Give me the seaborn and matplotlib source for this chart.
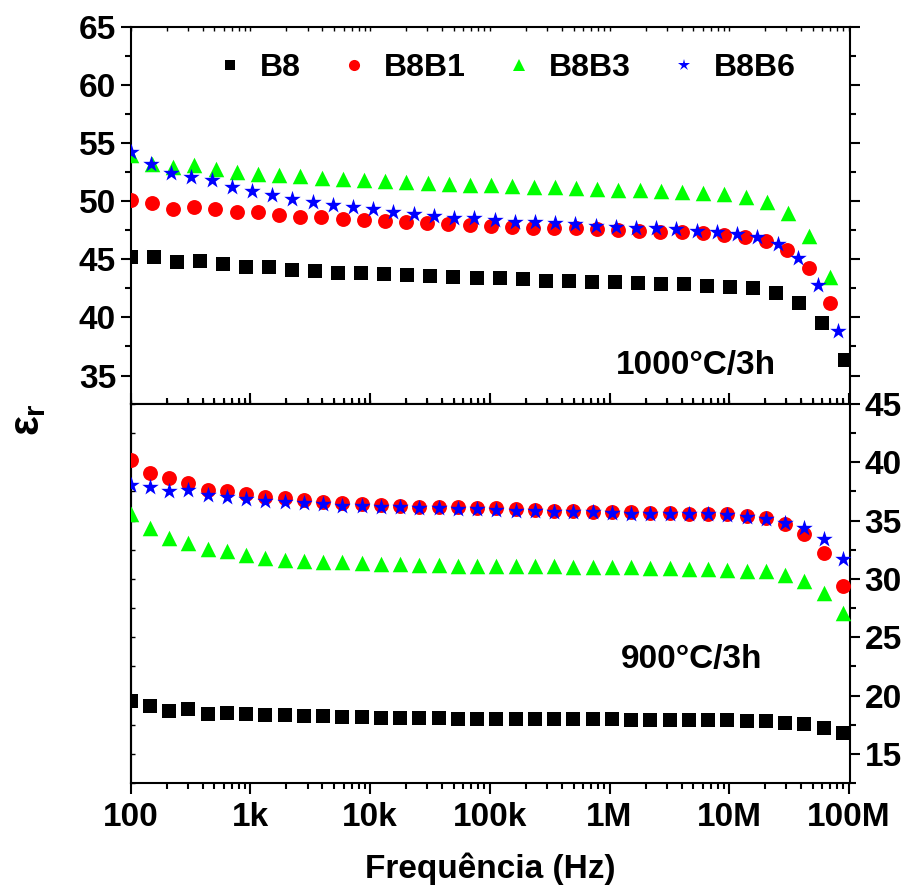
import numpy as np
import pandas as pd
import matplotlib
matplotlib.use("Agg")
import matplotlib.pyplot as plt
import matplotlib.ticker as mticker
import seaborn as sns

sns.set_theme(style="white")
plt.rcParams['font.family'] = ['Liberation Sans', 'DejaVu Sans']
plt.rcParams['font.weight'] = 'bold'
plt.rcParams['mathtext.fontset'] = 'custom'
plt.rcParams['mathtext.rm'] = 'Liberation Sans:bold'
plt.rcParams['mathtext.it'] = 'Liberation Sans:bold'
for k in ('text.color', 'axes.labelcolor', 'xtick.color', 'ytick.color', 'axes.edgecolor'):
    plt.rcParams[k] = 'black'

series_names = ["B8", "B8B1", "B8B3", "B8B6"]
colors = {"B8": "#000000", "B8B1": "#ff0000", "B8B3": "#00ff00", "B8B6": "#0000ff"}
markers = {"B8": "s", "B8B1": "o", "B8B3": "^", "B8B6": "*"}
sizes = {"B8": 105, "B8B1": 115, "B8B3": 125, "B8B6": 155}

# frequency sweeps (Hz)
freq_1000_B8 = np.logspace(2, 7.97, 32)
freq_1000_B8B1 = np.logspace(2, 7.84, 34)
freq_1000_B8B3 = np.logspace(2, 7.845, 34)
freq_1000_B8B6 = np.logspace(2, 7.91, 36)
freq_900 = np.logspace(2, 7.95, 38)

# 1000°C/3h permittivity
er_1000_B8 = [45.17, 45.17, 44.80, 44.89, 44.57, 44.31, 44.31, 44.08, 44.00, 43.85,
              43.80, 43.71, 43.62, 43.57, 43.51, 43.42, 43.37, 43.28, 43.17, 43.14,
              43.08, 43.02, 42.94, 42.88, 42.85, 42.74, 42.65, 42.51, 42.13, 41.28,
              39.56, 36.35]
er_1000_B8B1 = [50.10, 49.81, 49.33, 49.47, 49.30, 49.04, 49.04, 48.81, 48.67, 48.61,
                48.50, 48.38, 48.32, 48.24, 48.09, 48.04, 47.95, 47.87, 47.81, 47.72,
                47.66, 47.66, 47.61, 47.52, 47.46, 47.38, 47.32, 47.23, 47.09, 46.89,
                46.60, 45.80, 44.23, 41.28]
er_1000_B8B3 = [53.97, 53.25, 52.97, 53.11, 52.82, 52.54, 52.39, 52.25, 52.16, 52.02,
                51.88, 51.82, 51.73, 51.62, 51.53, 51.48, 51.39, 51.36, 51.30, 51.25,
                51.19, 51.10, 51.05, 50.99, 50.96, 50.87, 50.82, 50.73, 50.59, 50.33,
                49.96, 49.01, 47.01, 43.51]
er_1000_B8B6 = [54.26, 53.25, 52.45, 52.05, 51.82, 51.19, 50.90, 50.53, 50.16, 49.96,
                49.67, 49.47, 49.30, 49.10, 48.90, 48.72, 48.58, 48.52, 48.35, 48.24,
                48.18, 48.09, 48.04, 47.89, 47.81, 47.72, 47.66, 47.58, 47.46, 47.38,
                47.15, 46.89, 46.32, 45.09, 42.79, 38.87]

# 900°C/3h permittivity
er_900_B8 = [19.51, 19.08, 18.65, 18.88, 18.45, 18.54, 18.39, 18.31, 18.36, 18.25,
             18.22, 18.16, 18.16, 18.11, 18.11, 18.08, 18.08, 18.02, 18.02, 18.02,
             18.02, 18.02, 17.96, 17.96, 17.96, 17.96, 17.93, 17.93, 17.93, 17.93,
             17.88, 17.88, 17.82, 17.82, 17.68, 17.53, 17.24, 16.81]
er_900_B8B1 = [40.18, 39.12, 38.63, 38.20, 37.62, 37.54, 37.25, 37.05, 36.91, 36.76,
               36.62, 36.48, 36.39, 36.30, 36.25, 36.19, 36.19, 36.16, 36.10, 36.04,
               35.96, 35.90, 35.82, 35.82, 35.76, 35.76, 35.73, 35.67, 35.67, 35.61,
               35.59, 35.53, 35.38, 35.24, 34.75, 33.81, 32.23, 29.41]
er_900_B8B3 = [35.53, 34.38, 33.52, 33.09, 32.60, 32.37, 32.08, 31.80, 31.65, 31.57,
               31.45, 31.42, 31.37, 31.31, 31.28, 31.22, 31.17, 31.14, 31.08, 31.08,
               31.08, 31.08, 31.08, 31.02, 31.02, 30.99, 30.99, 30.94, 30.94, 30.88,
               30.85, 30.79, 30.71, 30.65, 30.36, 29.79, 28.78, 27.06]
er_900_B8B6 = [38.03, 37.91, 37.54, 37.62, 37.16, 37.05, 36.88, 36.68, 36.59, 36.48,
               36.39, 36.25, 36.25, 36.19, 36.16, 36.10, 36.04, 35.96, 35.96, 35.90,
               35.82, 35.82, 35.76, 35.76, 35.73, 35.67, 35.61, 35.61, 35.59, 35.53,
               35.53, 35.44, 35.30, 35.15, 34.81, 34.38, 33.43, 31.74]

x_tick_vals = [1e2, 1e3, 1e4, 1e5, 1e6, 1e7, 1e8]
x_tick_labels = ["100", "1k", "10k", "100k", "1M", "10M", "100M"]

top_sets = {"B8": (freq_1000_B8, er_1000_B8), "B8B1": (freq_1000_B8B1, er_1000_B8B1),
            "B8B3": (freq_1000_B8B3, er_1000_B8B3), "B8B6": (freq_1000_B8B6, er_1000_B8B6)}
bot_sets = {"B8": (freq_900, er_900_B8), "B8B1": (freq_900, er_900_B8B1),
            "B8B3": (freq_900, er_900_B8B3), "B8B6": (freq_900, er_900_B8B6)}

fig = plt.figure(figsize=(9.08, 8.91), dpi=100)
L, R = 130.7 / 908, 850 / 908
ax_top = fig.add_axes([L, 1 - 404 / 891, R - L, (404 - 27) / 891])
ax_bot = fig.add_axes([L, 1 - 783 / 891, R - L, (783 - 404) / 891], sharex=ax_top)

for ax, sets in ((ax_top, top_sets), (ax_bot, bot_sets)):
    for name in series_names:
        f, v = sets[name]
        df = pd.DataFrame({"freq": f, "er": v})
        sns.scatterplot(data=df, x="freq", y="er", ax=ax, marker=markers[name],
                        color=colors[name], s=sizes[name], linewidth=0,
                        legend=False, zorder=3)

ax_top.set_xscale("log")
ax_top.set_xlim(1e2, 1.02e8)
ax_top.set_ylim(32.55, 65)
ax_bot.set_ylim(12.5, 45)

for ax in (ax_top, ax_bot):
    for sp in ax.spines.values():
        sp.set_linewidth(1.5)
        sp.set_color("black")
    ax.set_xlabel("")
    ax.set_ylabel("")

# top panel y
ax_top.yaxis.set_major_locator(mticker.MultipleLocator(5))
ax_top.yaxis.set_minor_locator(mticker.MultipleLocator(2.5))
ax_top.tick_params(axis="y", which="both", left=True, right=True, direction="out",
                   labelleft=True, labelright=False, labelsize=24, width=1.5, color="black")
ax_top.tick_params(axis="y", which="major", length=7)
ax_top.tick_params(axis="y", which="minor", length=4)
ax_top.tick_params(axis="x", which="both", top=True, bottom=True, direction="in",
                   labelbottom=False, labeltop=False, length=3, width=1.0)
ax_top.yaxis.set_major_formatter(mticker.FormatStrFormatter("%d"))

# bottom panel y (right)
ax_bot.yaxis.set_major_locator(mticker.MultipleLocator(5))
ax_bot.yaxis.set_minor_locator(mticker.MultipleLocator(2.5))
ax_bot.yaxis.tick_right()
ax_bot.tick_params(axis="y", which="both", right=True, left=False, direction="out",
                   labelright=True, labelleft=False, labelsize=24, width=1.5, color="black")
ax_bot.tick_params(axis="y", which="major", length=7)
ax_bot.tick_params(axis="y", which="minor", length=4)
ax_bot.yaxis.set_major_formatter(mticker.FormatStrFormatter("%d"))
# inner left ticks of bottom panel
ax_bot_l = ax_bot.secondary_yaxis("left")
ax_bot_l.yaxis.set_major_locator(mticker.MultipleLocator(2.5))
ax_bot_l.tick_params(axis="y", which="both", direction="in", length=3, width=1.0,
                     labelleft=False)
ax_bot_l.spines["left"].set_linewidth(1.5)

ax_bot.xaxis.set_major_locator(mticker.FixedLocator(x_tick_vals))
ax_bot.xaxis.set_major_formatter(mticker.FixedFormatter(x_tick_labels))
ax_bot.xaxis.set_minor_locator(mticker.LogLocator(base=10, subs=np.arange(2, 10)))
ax_bot.xaxis.set_minor_formatter(mticker.NullFormatter())
ax_bot.tick_params(axis="x", which="both", bottom=True, top=True, direction="out",
                   labelbottom=True, labelsize=24, width=1.5, color="black", pad=6)
ax_bot.tick_params(axis="x", which="major", length=8)
ax_bot.tick_params(axis="x", which="minor", length=4)
for t in ax_bot.get_xticklabels() + ax_bot.get_yticklabels() + ax_top.get_yticklabels():
    t.set_fontweight("bold")

ax_bot.set_xlabel("Frequência (Hz)", fontsize=24, fontweight="bold", labelpad=14)
fig.text(0.031, 0.529, r"$\varepsilon_r$", fontsize=30, rotation=90,
         ha="center", va="center")

ax_top.text(0.786, 0.103, "1000°C/3h", transform=ax_top.transAxes, fontsize=24,
            fontweight="bold", ha="center", va="center")
ax_bot.text(0.78, 0.325, "900°C/3h", transform=ax_bot.transAxes, fontsize=24,
            fontweight="bold", ha="center", va="center")

hs = []
leg_ms = {"B8": 7.5, "B8B1": 8, "B8B3": 9, "B8B6": 9}
for name in series_names:
    hs.append(plt.Line2D([], [], linestyle="none", marker=markers[name],
                         color=colors[name], markersize=leg_ms[name],
                         markeredgewidth=0))
leg = ax_top.legend(hs, series_names, loc="center", bbox_to_anchor=(0.52, 0.89),
                    ncol=4, frameon=False, prop={"size": 23, "weight": "bold"},
                    handlelength=1.0, handletextpad=0.45, columnspacing=1.15,
                    borderaxespad=0)

fig.savefig("out.png", dpi=100)
